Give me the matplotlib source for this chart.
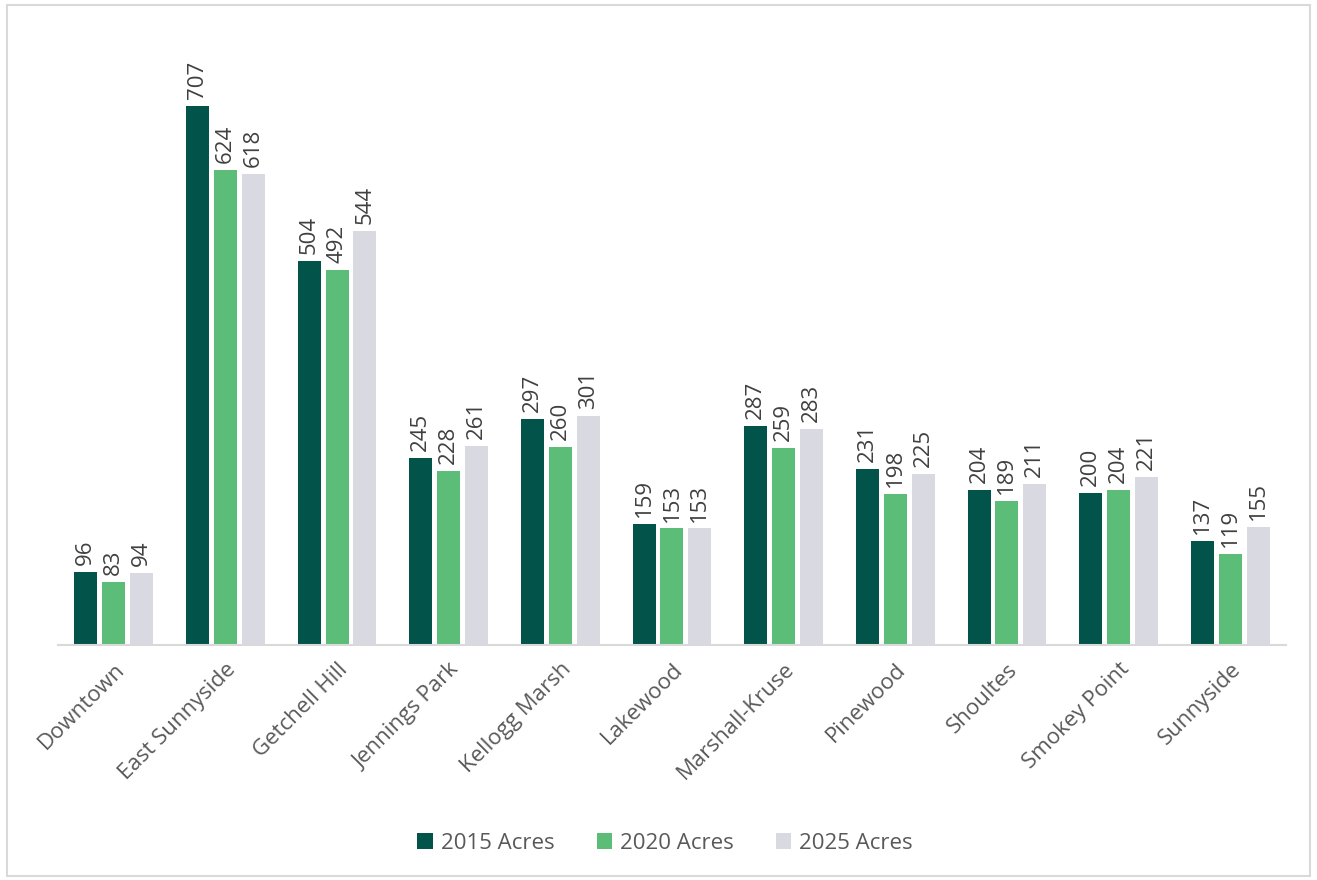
import numpy as np
import matplotlib
matplotlib.use("Agg")
import matplotlib.pyplot as plt
from matplotlib.patches import Rectangle

plt.rcParams["font.family"] = ["Open Sans", "DejaVu Sans"]

neighborhoods = ["Downtown", "East Sunnyside", "Getchell Hill", "Jennings Park",
                 "Kellogg Marsh", "Lakewood", "Marshall-Kruse", "Pinewood",
                 "Shoultes", "Smokey Point", "Sunnyside"]
acres_2015 = [96, 707, 504, 245, 297, 159, 287, 231, 204, 200, 137]
acres_2020 = [83, 624, 492, 228, 260, 153, 259, 198, 189, 204, 119]
acres_2025 = [94, 618, 544, 261, 301, 153, 283, 225, 211, 221, 155]
series_names = ["2015 Acres", "2020 Acres", "2025 Acres"]
colors = ["#02534A", "#5BBD77", "#D9D9E1"]

fig = plt.figure(figsize=(13.17, 8.8), dpi=100)
ax = fig.add_axes([0.044, 0.267, 0.9325, 0.71])

x = np.arange(len(neighborhoods))
width = 0.206
offset = 0.25
text_color = "#404040"

for i, (vals, name, c) in enumerate(zip([acres_2015, acres_2020, acres_2025],
                                        series_names, colors)):
    pos = x + (i - 1) * offset
    bars = ax.bar(pos, vals, width, color=c, label=name, zorder=2)
    for b, v in zip(bars, vals):
        ax.annotate(str(v), (b.get_x() + b.get_width() / 2, v),
                    xytext=(0, 5), textcoords="offset points",
                    rotation=90, ha="center", va="bottom",
                    fontsize=16, color=text_color)

ax.set_xlim(-0.5, len(neighborhoods) - 0.5)
ax.set_ylim(0, 820)
ax.set_yticks([])
for side in ["top", "right", "left"]:
    ax.spines[side].set_visible(False)
ax.spines["bottom"].set_color("#D9D9D9")
ax.spines["bottom"].set_linewidth(1.5)

ax.set_xticks(x)
ax.set_xticklabels(neighborhoods, rotation=45, ha="right",
                   rotation_mode="anchor", fontsize=16, color="#595959")
ax.tick_params(axis="x", length=0, pad=10)

fig.legend(loc="center", bbox_to_anchor=(0.505, 0.042), ncol=3,
           frameon=False, fontsize=16, handlelength=0.7, handleheight=0.7,
           handletextpad=0.35, columnspacing=1.9, labelcolor="#595959")

# light frame round the whole figure
fig.patches.append(Rectangle((0.005, 0.004), 0.99, 0.99, transform=fig.transFigure,
                             fill=False, edgecolor="#D9D9D9", linewidth=1.5))

fig.savefig("out.png", dpi=100)
